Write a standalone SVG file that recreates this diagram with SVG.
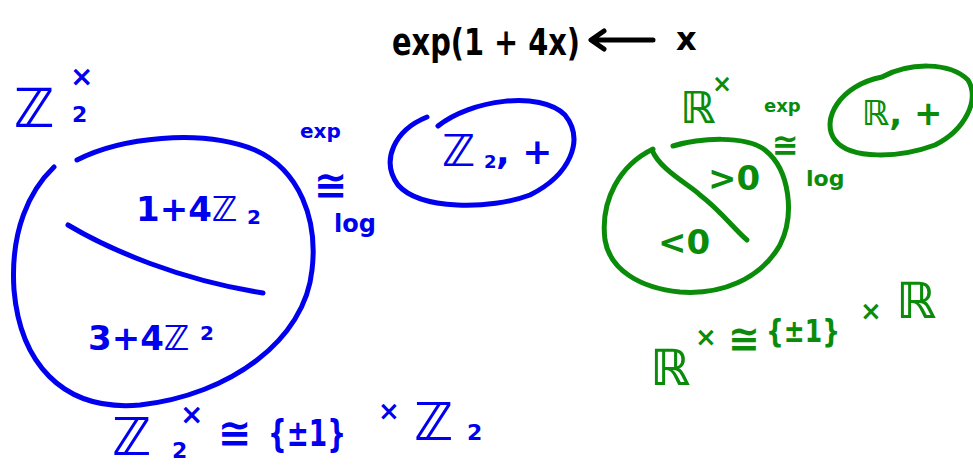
<svg xmlns="http://www.w3.org/2000/svg" width="973" height="470" viewBox="0 0 973 470">
<style>
.b{fill:none;stroke:#0000ee;stroke-width:5;stroke-linecap:round;stroke-linejoin:round}
.g{fill:none;stroke:#0a8c0a;stroke-width:5;stroke-linecap:round;stroke-linejoin:round}
.k{fill:none;stroke:#000;stroke-width:5;stroke-linecap:round;stroke-linejoin:round}
text{font-family:"DejaVu Sans","Noto Sans",sans-serif;font-weight:bold}
.tb{fill:#0000ee}
.tg{fill:#0a8c0a}
.tk{fill:#000}
</style>
<rect width="973" height="470" fill="#fff"/>
<g id="map-title">
<text class="tk" x="392" y="55" font-size="38" textLength="188" lengthAdjust="spacingAndGlyphs">exp(1 + 4x)</text>
<text class="tk" x="676" y="50" font-size="32">x</text>
</g>
<g id="connectors">
<path class="k" d="M653,40 L592,40 M604,31 L591,40 L604,49"/>
</g>
<g id="z2-units">
<path class="b" d="M77,160 C120,138 200,128 255,150 C300,170 318,220 312,270 C305,340 230,395 140,405 C60,412 20,360 14,290 C10,230 30,190 54,167"/>
<path class="b" d="M68,225 C110,250 180,280 263,293"/>
<text class="tb" font-size="54"><tspan x="14" y="127">ℤ</tspan><tspan x="72" y="122" font-size="22">2</tspan><tspan x="70" y="86" font-size="28">×</tspan></text>
<text class="tb" font-size="34"><tspan x="136" y="221">1+4ℤ</tspan><tspan x="247" y="224" font-size="20">2</tspan></text>
<text class="tb" font-size="34"><tspan x="88" y="350">3+4ℤ</tspan><tspan x="200" y="340" font-size="20">2</tspan></text>
</g>
<g id="z2-iso">
<text class="tb" x="300" y="138" font-size="20">exp</text>
<text class="tb" x="314" y="199" font-size="40">≅</text>
<text class="tb" x="334" y="232" font-size="24">log</text>
</g>
<g id="z2-add">
<path class="b" d="M438,126 C470,100 540,90 565,115 C585,140 570,175 530,195 C490,210 420,210 398,185 C380,160 395,130 427,117"/>
<text class="tb" font-size="36"><tspan x="442" y="166" font-size="44">ℤ</tspan><tspan x="484" y="168" font-size="18">2</tspan><tspan x="496" y="164">, +</tspan></text>
</g>
<g id="z2-decomp">
<text class="tb" font-size="52"><tspan x="112" y="455">ℤ</tspan><tspan x="172" y="458" font-size="22">2</tspan><tspan x="180" y="424" font-size="28">×</tspan><tspan x="218" y="447" font-size="40">≅</tspan><tspan x="268" y="446" font-size="38" textLength="78" lengthAdjust="spacingAndGlyphs">{±1}</tspan><tspan x="378" y="420" font-size="26">×</tspan><tspan x="414" y="440">ℤ</tspan><tspan x="467" y="440" font-size="22">2</tspan></text>
</g>
<g id="r-units">
<path class="g" d="M673,146 C700,138 745,135 765,150 C790,170 795,215 780,245 C760,280 720,295 680,292 C640,288 610,270 605,240 C600,200 620,165 653,149"/>
<path class="g" d="M652,150 C660,170 690,185 700,195 C720,210 735,230 747,240"/>
<text class="tg" font-size="44"><tspan x="680" y="123">ℝ</tspan><tspan x="712" y="92" font-size="24">×</tspan></text>
<text class="tg" x="708" y="190" font-size="34">&gt;0</text>
<text class="tg" x="658" y="254" font-size="34">&lt;0</text>
</g>
<g id="r-iso">
<text class="tg" x="764" y="112" font-size="18">exp</text>
<text class="tg" x="772" y="156" font-size="32">≅</text>
<text class="tg" x="806" y="186" font-size="22">log</text>
</g>
<g id="r-add">
<path class="g" d="M882,77 C910,62 950,62 968,80 C980,100 965,130 935,145 C900,158 850,160 835,140 C820,120 840,85 882,77"/>
<text class="tg" x="862" y="125" font-size="34">ℝ, +</text>
</g>
<g id="r-decomp">
<text class="tg" font-size="50"><tspan x="650" y="385">ℝ</tspan><tspan x="695" y="346" font-size="26">×</tspan><tspan x="728" y="352" font-size="38">≅</tspan><tspan x="766" y="342" font-size="32" textLength="74" lengthAdjust="spacingAndGlyphs">{±1}</tspan><tspan x="860" y="320" font-size="26">×</tspan><tspan x="896" y="318">ℝ</tspan></text>
</g>
</svg>
